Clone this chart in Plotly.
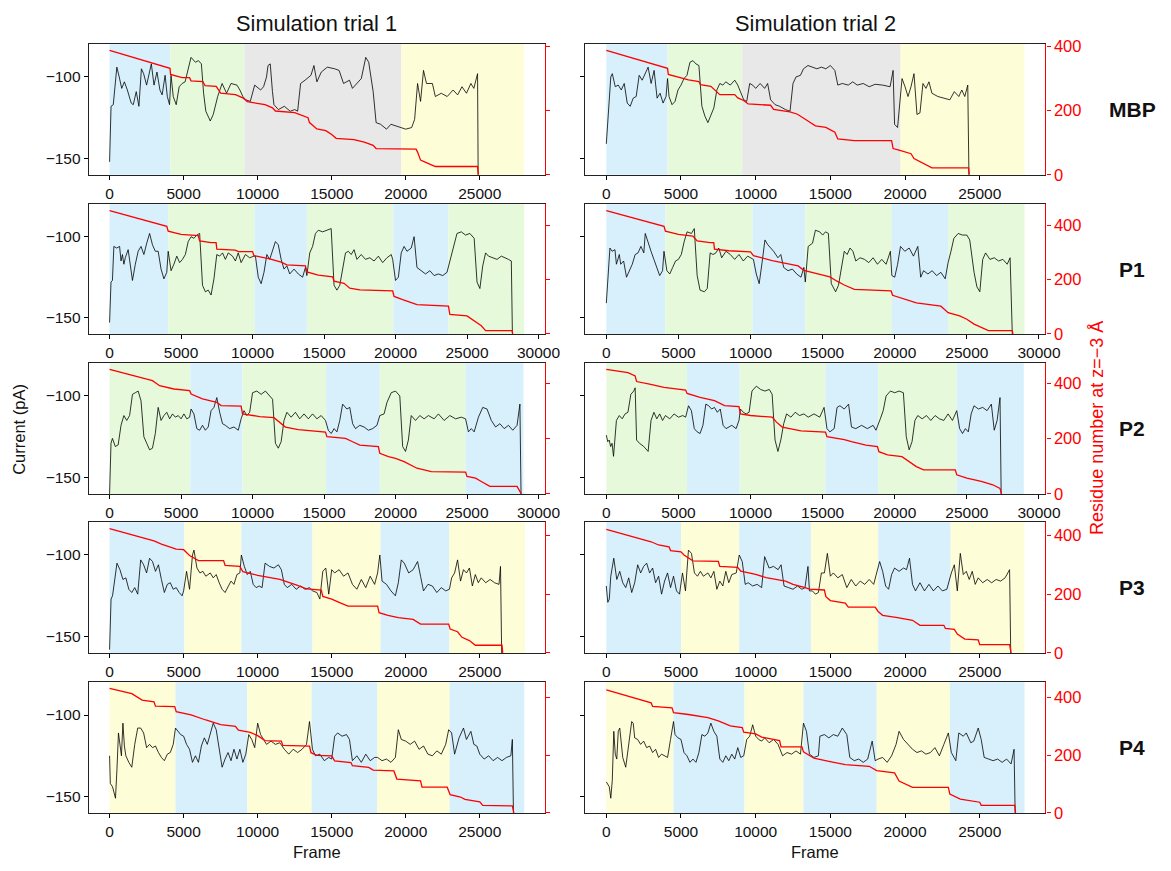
import plotly.graph_objects as go

# ---------------- DATA ----------------
# Panel A: MBP, trial 1
mbp1_frame = [0,100,250,400,490,650,820,1000,1200,1460,1600,1800,1980,2150,2300,2500,2820,3000,3200,3400,3550,3750,3900,4050,
              4150,4300,4500,4700,4900,5100,5300,5500,5800,6000,6200,6350,6500,6800,7000,7300,7600,7900,8200,8600,8800,9000,
              9200,9500,9800,10200,10400,10600,10700,10850,11000,11100,11400,11800,12200,12500,12700,12900,13200,13600,13800,14000,14300,14700,15200,15500,15800,16200,16400,16700,17000,17300,17500,17800,18000,18300,18700,19000,19300,19700,
              20000,20400,20600,20800,21000,21200,21400,21800,22000,22400,22800,23200,23500,23800,24100,24400,24600,24850,24900]
mbp1_current = [-152,-118,-117,-103,-94,-100,-107,-103,-108,-116,-117,-109,-118,-95,-98,-105,-92,-105,-97,-108,-111,-99,-112,-117,
                -99,-112,-117,-106,-104,-103,-95,-88,-91,-90,-92,-110,-121,-127,-123,-112,-104,-110,-104,-105,-108,-112,
                -114,-115,-105,-108,-106,-100,-93,-92,-109,-117,-120,-118,-121,-120,-121,-104,-102,-99,-93,-103,-97,-94,-95,-96,-104,-102,-107,-104,-101,-88,-91,-109,-128,-129,-132,-129,-130,-131,
                -132,-131,-126,-104,-115,-96,-104,-104,-112,-110,-112,-108,-111,-106,-110,-104,-107,-98,-175]
mbp1_res_frame = [0,4080,4120,4900,5400,5500,6300,6450,7200,7500,8500,9000,9300,10500,11000,11200,12500,13000,13400,13500,14000,14600,15000,15300,16500,17200,17800,18000,20700,20800,21000,21500,22000,24850,24900]
mbp1_residue = [388,332,313,303,303,293,291,278,276,255,250,240,228,219,209,199,194,184,178,163,143,138,126,114,110,102,92,82,80,71,46,36,26,26,0]
mbp1_spans = [0,4100,9100,19700,28000]
mbp1_span_colors = ["blue","green","gray","yellow"]

# Panel B: MBP, trial 2
mbp2_frame = [0,150,300,400,600,800,1000,1200,1400,1600,1800,2000,2200,2400,2600,2800,3000,3200,3400,3600,3800,4000,4100,
              4200,4400,4600,4800,5000,5200,5400,5600,5800,6000,6200,6400,6600,6800,7000,7200,7400,7600,7800,8000,8300,8600,8800,9000,9200,
              9400,9600,9800,10000,10300,10600,10800,11000,11300,11600,12000,12300,12500,12700,13000,13200,13500,13800,14100,14400,14700,15000,15300,15500,15800,16200,16500,16800,17200,17600,18000,18500,19000,19200,19300,19500,19700,
              19800,20000,20200,20400,20600,20800,21000,21200,21400,21600,21800,22200,22600,23000,23300,23600,23800,24000,24200,24300]
mbp2_current = [-141,-117,-100,-98,-106,-105,-108,-104,-116,-118,-113,-112,-99,-102,-98,-94,-104,-96,-113,-110,-116,-112,-101,
                -112,-117,-115,-108,-105,-101,-99,-91,-90,-92,-93,-118,-124,-128,-123,-119,-108,-104,-105,-103,-105,-102,-105,-109,-114,
                -115,-104,-105,-107,-104,-107,-104,-114,-117,-118,-120,-121,-104,-100,-99,-95,-93,-94,-95,-94,-95,-93,-96,-105,-104,-105,-103,-105,-104,-106,-104.5,-105,-106,-96,-129,-131,-109,
                -101,-106,-112,-106,-98,-123,-122,-104,-107,-103,-110,-112,-113,-114,-109,-112,-108,-112,-105,-175]
mbp2_res_frame = [0,4100,4150,5000,5500,6200,6300,7000,7400,7600,8600,8800,9200,9500,11000,11200,12300,12800,13500,14000,14700,15300,15500,16600,19100,19200,19600,20400,20600,21200,21800,24250,24300]
mbp2_residue = [388,332,313,303,296,291,281,276,260,250,250,240,232,221,217,204,196,189,168,153,148,133,112,107,107,82,77,66,51,36,22,22,0]
mbp2_spans = [0,4100,9100,19700,28000]
mbp2_span_colors = ["blue","green","gray","yellow"]

# Panel C: P1, trial 1
p1a_frame = [0,100,200,300,500,700,800,900,1000,1100,1300,1500,1600,1800,2000,2200,2400,2600,2800,3000,3200,3400,3600,3800,4000,4100,
             4300,4500,4700,4900,5100,5300,5500,5700,5900,6100,6300,6500,6700,6900,7100,7300,7500,7700,7900,8100,8300,8600,8800,9000,9200,9500,9800,10100,
             10200,10400,10600,10800,11000,11200,11400,11600,11800,12000,12200,12400,12600,12900,13200,13500,13700,
             13800,14000,14200,14400,14600,14900,15200,15500,15700,15900,16100,16300,16500,16700,16900,17100,17300,17600,17900,18200,18500,18800,19100,19400,19700,
             19800,20000,20200,20400,20600,20800,21100,21300,21500,21800,22100,22400,22700,23000,23300,23600,
             23800,24000,24300,24600,24900,25200,25500,25700,25900,26100,26300,26500,26800,27100,27400,27700,27900,28100,28200]
p1a_current = [-153,-128,-127,-106,-107,-106,-115,-111,-117,-113,-108,-121,-127,-117,-109,-106,-111,-104,-98,-105,-109,-109,-120,-126,-122,-109,
               -121,-117,-112,-116,-114,-111,-103,-100,-101,-99,-98,-130,-134,-133,-136,-126,-111,-112,-110,-114,-110,-112,-115,-110,-116,-111,-113,-112,
               -112,-125,-129,-122,-111,-114,-108,-103,-105,-114,-120,-118,-123,-120,-123,-125,-119,
               -124,-110,-106,-98,-96,-97,-96,-95,-130,-133,-130,-120,-110,-109,-111,-108,-114,-111,-114,-113,-115,-112,-116,-113,-111,
               -114,-127,-125,-110,-106,-109,-107,-100,-119,-121,-123,-121,-124,-123,-124,-122,
               -115,-108,-98,-97,-99,-98,-101,-128,-132,-118,-110,-112,-113,-114,-112,-113,-114,-115,-175]
p1a_res_frame = [0,4000,4100,5000,6200,6300,7100,7450,7500,8800,9000,10000,10100,11200,12000,12400,13700,13800,14600,15600,15700,16400,16800,17500,19800,19900,20500,21500,23700,23800,25000,25500,26000,26300,28150,28200]
p1a_residue = [454,396,378,366,362,342,336,336,312,308,303,303,288,276,264,254,250,228,216,210,194,186,168,162,158,138,126,108,102,72,66,48,30,12,12,0]
p1a_spans = [0,4100,10150,13800,19850,23700,29000]
p1a_span_colors = ["blue","green","blue","green","blue","green"]

# Panel D: P1, trial 2
p1b_frame = [0,100,250,400,600,700,900,1000,1200,1400,1600,1800,2000,2200,2400,2600,2700,2900,3100,3300,3500,3700,3900,4000,
             4200,4400,4600,4800,5000,5200,5400,5600,5900,6100,6300,6500,6800,7000,7200,7400,7600,7800,8000,8300,8600,8900,9200,9500,9800,10000,
             10200,10400,10600,10800,11000,11200,11400,11600,11900,12100,12300,12600,12900,13200,13500,13700,
             13800,14000,14300,14500,14800,15000,15200,15400,15600,15900,16100,16300,16500,16700,16900,17100,17300,17600,17900,18200,18500,18800,19100,19400,19700,
             19800,20000,20200,20400,20700,21000,21300,21600,21800,22000,22300,22600,22900,23200,23500,23700,
             23900,24100,24400,24700,25000,25200,25500,25700,25900,26100,26300,26600,26900,27200,27500,27800,28000,28200]
p1b_current = [-141,-128,-107,-109,-108,-117,-111,-117,-115,-125,-121,-117,-111,-110,-106,-110,-98,-104,-109,-114,-119,-124,-121,-109,
               -121,-123,-119,-115,-114,-111,-103,-97,-98,-95,-124,-133,-134,-132,-110,-111,-110,-107,-113,-109,-111,-114,-111,-115,-112,-113,
               -114,-123,-129,-116,-102,-105,-107,-109,-113,-111,-119,-121,-120,-123,-125,-119,
               -128,-106,-104,-96,-97,-99,-97,-98,-129,-134,-130,-120,-109,-111,-107,-109,-115,-113,-114,-116,-113,-117,-114,-117,-109,
               -124,-125,-117,-106,-109,-107,-112,-106,-125,-121,-123,-121,-124,-122,-126,-116,
               -109,-101,-98,-99,-99,-102,-122,-131,-134,-114,-110,-114,-113,-115,-114,-117,-113,-175]
p1b_res_frame = [0,4000,4100,5000,6000,6300,7200,7450,7500,8500,10000,10200,11500,12500,13300,13700,14700,15500,16000,16500,17200,19750,19850,20500,21500,23200,23700,24500,25000,25500,26000,26500,28150,28200]
p1b_residue = [454,396,378,366,360,342,336,336,312,306,302,288,270,258,250,234,222,210,194,180,164,158,142,130,114,102,78,66,54,36,24,12,12,0]
p1b_spans = [0,4100,10150,13800,19800,23700,29000]
p1b_span_colors = ["blue","green","blue","green","blue","green"]

# Panel E: P2, trial 1
p2a_frame = [0,100,200,400,600,800,1000,1200,1400,1600,1800,2000,2200,2400,2600,2800,3000,3200,3400,3600,3800,4000,4200,4400,4600,4800,5000,5200,5400,5600,
             5700,5900,6100,6300,6500,6700,6900,7100,7300,7500,7700,7900,8100,8400,8700,9000,9200,
             9400,9600,9800,10000,10300,10600,10900,11200,11400,11600,11800,12000,12200,12400,12700,13000,13300,13600,13900,14200,14500,14800,15100,
             15300,15500,15700,15900,16100,16300,16600,16800,17000,17200,17500,17800,18100,18400,18700,
             18900,19200,19400,19700,20000,20300,20500,20700,20900,21100,21400,21700,22000,22300,22700,23000,23400,23800,24200,24600,24900,
             25100,25300,25500,25800,26100,26400,26700,27000,27300,27600,27900,28200,28500,28700,28800]
p2a_current = [-160,-129,-126,-131,-130,-118,-112,-115,-112,-99,-98,-97,-103,-125,-129,-133,-132,-123,-107,-115,-112,-110,-114,-111,-113,-112,-114,-111,-114,-113,
               -108,-111,-120,-121,-118,-121,-119,-109,-107,-101,-110,-117,-118,-120,-119,-121,-114,
               -109,-112,-110,-98,-97,-99,-97,-100,-102,-129,-132,-128,-115,-110,-113,-110,-114,-111,-114,-111,-114,-112,-115,
               -121,-123,-120,-122,-115,-105,-108,-107,-117,-120,-118,-119,-121,-120,-118,
               -112,-111,-104,-98,-97,-100,-131,-134,-127,-112,-115,-112,-114,-112,-114,-111,-115,-112,-114,-113,-114,
               -122,-120,-122,-113,-107,-108,-115,-119,-117,-120,-118,-121,-118,-105,-175]
p2a_res_frame = [0,3000,3500,4500,5600,5700,6500,7500,7800,9200,9300,10000,10500,11500,11900,12300,13200,15100,15200,16500,17000,17500,18800,18900,19500,20000,20600,21000,21500,22500,24900,25000,25600,26000,26600,28500,28750,28800]
p2a_residue = [451,410,392,380,374,362,344,332,320,318,290,284,280,276,260,242,233,224,207,201,189,177,171,147,135,129,117,105,93,81,79,63,57,45,27,27,4,0]
p2a_spans = [0,5650,9300,15150,18900,24900,28950]
p2a_span_colors = ["green","blue","green","blue","green","blue"]

# Panel F: P2, trial 2
p2b_frame = [0,100,200,300,400,500,700,900,1100,1300,1500,1700,1900,2000,2100,2300,2600,2900,3100,3300,3500,3700,3900,4100,4400,4700,5000,5300,5500,
             5700,5900,6100,6300,6500,6700,6900,7100,7300,7500,7700,7900,8100,8300,8500,8700,9000,9200,
             9300,9500,9700,9900,10100,10400,10700,11000,11300,11500,11700,11900,12100,12300,12500,12800,13100,13400,13700,14000,14400,14800,15100,
             15300,15500,15800,16000,16200,16500,16800,17000,17300,17700,18100,18500,18700,
             19000,19200,19400,19700,20000,20300,20600,20800,21000,21200,21400,21600,21900,22200,22500,22800,23100,23400,23700,24000,24300,
             24500,24700,24900,25100,25300,25500,25800,26100,26400,26700,26900,27100,27300,27400]
p2b_current = [-124,-128,-127,-131,-129,-137,-115,-112,-114,-111,-110,-99,-97,-95,-127,-129,-131,-134,-115,-110,-114,-111,-115,-112,-114,-111,-113,-112,-113,
               -106,-109,-120,-122,-123,-118,-105,-106,-108,-107,-110,-108,-118,-120,-119,-118,-120,-115,
               -108,-110,-111,-110,-97,-94,-96,-97,-96,-99,-127,-134,-127,-117,-111,-113,-110,-112,-111,-113,-111,-113,-107,
               -120,-122,-120,-107,-106,-108,-105,-119,-120,-118,-120,-118,-121,
               -114,-109,-100,-97,-98,-97,-98,-125,-133,-128,-115,-112,-114,-112,-115,-112,-114,-115,-111,-115,-109,
               -120,-123,-120,-122,-111,-106,-108,-107,-109,-105,-121,-115,-101,-175]
p2b_res_frame = [0,1500,2000,2100,3000,4000,5500,5600,6500,7500,8200,9200,9300,10000,11500,11800,12200,13500,15200,15300,16500,17000,18000,18800,18900,19500,20500,21000,21500,22000,24200,24300,25000,26000,26800,27300,27400]
p2b_residue = [451,439,427,407,398,386,376,364,350,338,320,316,290,284,278,260,242,228,224,207,197,189,177,171,153,141,135,117,99,87,87,69,57,45,33,20,0]
p2b_spans = [0,5600,9250,15200,18850,24300,28950]
p2b_span_colors = ["green","blue","green","blue","green","blue"]

# Panel G: P3, trial 1
p3a_frame = [0,100,200,400,500,700,900,1100,1300,1500,1700,1900,2100,2300,2500,2700,2900,3100,3300,3500,3700,3900,4100,4300,4500,4700,4900,5000,
             5200,5400,5600,5700,5900,6100,6300,6500,6800,7000,7200,7400,7600,7800,8000,8200,8400,8600,8800,
             8900,9100,9300,9500,9700,9900,10100,10300,10500,10800,11100,11400,11600,11800,12000,12300,12600,12900,13200,13500,
             13700,14000,14200,14400,14600,14800,15000,15200,15500,15800,16100,16400,16700,17000,17300,17600,17900,18100,18250,
             18400,18700,19000,19300,19500,19700,19900,20200,20500,20800,21000,21200,21500,21800,22100,22400,22700,22950,
             23100,23300,23500,23700,23900,24100,24300,24500,24700,24900,25100,25400,25700,26000,26300,26400,26500]
p3a_current = [-158,-127,-125,-111,-105,-109,-115,-114,-121,-123,-120,-124,-103,-106,-111,-102,-104,-110,-106,-115,-123,-118,-117,-121,-120,-123,-125,-122,
               -110,-121,-100,-97,-108,-111,-110,-113,-111,-114,-112,-117,-121,-123,-119,-116,-118,-112,-111,
               -100,-107,-112,-110,-118,-120,-119,-120,-105,-107,-108,-106,-109,-118,-120,-118,-121,-119,-121,-120,
               -122,-123,-127,-110,-108,-124,-109,-111,-109,-113,-111,-118,-121,-115,-120,-113,-118,-111,-100,
               -116,-118,-122,-125,-117,-103,-105,-111,-109,-104,-113,-122,-118,-119,-123,-120,-122,-121,
               -114,-111,-103,-116,-109,-111,-108,-119,-112,-117,-114,-117,-115,-117,-118,-107,-175]
p3a_res_frame = [0,3000,3500,4500,5000,5400,6000,7700,7800,8800,9000,10000,11500,12000,12600,13300,14300,14400,15000,15500,16100,18100,18200,18800,19500,20500,21000,22900,23000,23500,23800,24300,24700,26500,26550]
p3a_residue = [423,381,370,353,351,331,314,314,298,294,276,264,250,242,231,218,214,192,183,172,159,159,137,128,120,114,98,98,81,72,53,42,26,26,0]
p3a_spans = [0,5050,8900,13700,18300,22950,28050]
p3a_span_colors = ["blue","yellow","blue","yellow","blue","yellow"]

# Panel H: P3, trial 2
p3b_frame = [0,100,200,300,500,700,900,1100,1300,1500,1700,1900,2100,2300,2500,2700,2900,3100,3300,3500,3700,3900,4100,4300,4500,4700,4900,
             5100,5300,5500,5700,5900,6100,6300,6500,6800,7000,7200,7400,7600,7800,8000,8200,8400,8700,
             8900,9100,9300,9500,9800,10100,10400,10600,10900,11200,11500,11700,11900,12200,12500,12800,13100,13300,13500,13600,
             13800,14000,14200,14400,14600,14800,15000,15200,15500,15800,16100,16400,16700,17000,17300,17600,17900,18100,
             18300,18500,18700,18900,19100,19300,19600,19900,20100,20300,20500,20700,21000,21300,21600,21900,22200,22500,22800,
             23100,23300,23500,23700,23900,24100,24300,24500,24700,24900,25200,25500,25800,26100,26400,26700,27000,27100]
p3b_current = [-119,-129,-127,-113,-102,-115,-110,-117,-120,-114,-123,-117,-106,-111,-107,-105,-111,-108,-117,-113,-124,-116,-111,-120,-113,-122,-124,
               -111,-122,-97,-99,-111,-113,-110,-113,-111,-114,-110,-121,-116,-119,-110,-117,-112,-111,
               -100,-104,-118,-117,-119,-118,-120,-101,-108,-107,-109,-106,-119,-120,-121,-119,-121,-120,-107,-122,
               -122,-124,-123,-111,-111,-99,-113,-111,-114,-112,-120,-115,-119,-116,-118,-115,-118,-111,
               -104,-110,-119,-121,-112,-108,-110,-108,-109,-102,-118,-122,-117,-122,-118,-122,-119,-122,-121,
               -111,-106,-122,-99,-112,-110,-115,-110,-118,-114,-117,-115,-117,-115,-116,-114,-109,-175]
p3b_res_frame = [0,3000,3500,4200,4300,5000,5200,5800,7500,7600,8800,9000,10000,10700,12000,12500,13200,13600,14600,14700,15000,16000,16200,18000,18200,18500,19500,20500,21000,22600,22700,23300,23500,24000,24900,25000,27000,27100]
p3b_residue = [420,378,367,361,348,344,333,313,311,294,291,278,267,256,244,233,224,217,214,191,178,169,156,156,141,128,120,111,94,94,83,80,64,47,44,28,28,0]
p3b_spans = [0,5000,8900,13700,18200,23050,28000]
p3b_span_colors = ["blue","yellow","blue","yellow","blue","yellow"]

# Panel I: P4, trial 1
p4a_frame = [0,50,200,300,400,500,600,800,900,1000,1100,1300,1500,1700,1900,2100,2300,2500,2700,2900,3100,3300,3500,3700,3900,4100,4300,4450,
             4600,4800,5000,5200,5400,5600,5800,6000,6200,6400,6600,6800,7000,7200,7400,7600,7800,8000,8200,8400,8600,8800,9000,9200,
             9400,9600,9800,10000,10200,10400,10600,10900,11200,11500,11800,12100,12400,12700,13000,13300,13500,
             13700,13900,14200,14500,14800,15000,15200,15400,15700,16000,16200,16400,16700,17000,17300,17600,17900,
             18100,18400,18700,19000,19300,19500,19700,20000,20300,20600,20900,21200,21500,21800,22100,22400,22700,22900,
             23100,23300,23600,23900,24100,24400,24600,24800,25000,25300,25600,25900,26200,26500,26800,27100,27200,27300]
p4a_current = [-125,-142,-144,-148,-151,-133,-111,-125,-105,-119,-125,-129,-132,-118,-108,-108,-111,-120,-118,-120,-119,-123,-126,-128,-124,-123,-118,-108,
               -110,-112,-113,-118,-121,-129,-125,-129,-119,-114,-118,-112,-105,-109,-121,-132,-127,-123,-128,-121,-127,-121,-129,-124,
               -112,-115,-120,-105,-112,-115,-118,-116,-118,-117,-121,-124,-121,-123,-121,-118,-104,
               -121,-125,-124,-128,-126,-127,-113,-111,-113,-112,-115,-128,-125,-129,-124,-128,-126,
               -126,-128,-127,-129,-126,-109,-115,-116,-118,-116,-121,-119,-124,-125,-122,-124,-118,-109,
               -111,-124,-114,-108,-115,-110,-118,-119,-124,-127,-125,-128,-126,-128,-126,-125,-115,-175]
p4a_res_frame = [0,1500,2200,3000,3100,4400,4500,5500,6500,7500,8500,8700,9500,10000,10500,11600,11700,13500,13600,14000,15000,15200,16300,16400,17500,17800,19200,19400,21000,21100,22800,23000,23700,24000,25000,25200,27200,27300]
p4a_residue = [430,412,390,384,369,367,350,339,321,305,299,286,278,267,250,248,233,231,208,199,197,180,174,163,157,148,145,117,111,89,89,63,55,47,38,26,24,0]
p4a_spans = [0,4450,9300,13650,18080,22970,28000]
p4a_span_colors = ["yellow","blue","yellow","blue","yellow","blue"]

# Panel J: P4, trial 2
p4b_frame = [0,100,200,300,400,500,600,700,800,900,1000,1100,1300,1500,1700,1800,1900,2100,2300,2500,2700,2900,3100,3300,3500,3700,3900,4100,4300,4500,
             4600,4800,5000,5200,5400,5600,5800,6000,6200,6400,6600,6800,7000,7200,7400,7600,7800,8000,8200,8400,8600,8800,9000,9200,
             9400,9600,9800,10000,10200,10400,10600,10900,11200,11500,11800,12100,12400,12700,13000,13200,
             13400,13600,13900,14200,14300,14600,14900,15200,15500,15800,16100,16300,16600,16900,17200,17500,17800,18000,
             18200,18500,18800,19100,19400,19600,19900,20200,20500,20800,21100,21400,21700,22000,22300,22600,22900,
             23100,23400,23600,23900,24100,24400,24600,24900,25100,25300,25600,25900,26200,26500,26800,27100,27300,27400]
p4b_current = [-141,-143,-144,-151,-140,-110,-124,-127,-110,-108,-119,-126,-132,-117,-104,-105,-114,-115,-118,-116,-120,-119,-123,-121,-126,-124,-125,-126,-115,-104,
               -112,-114,-115,-123,-125,-129,-127,-129,-123,-112,-113,-111,-105,-110,-113,-127,-129,-125,-128,-124,-127,-120,-126,-125,
               -115,-113,-106,-113,-115,-116,-114,-117,-115,-118,-125,-123,-124,-122,-124,-105,
               -110,-124,-126,-125,-113,-112,-114,-112,-113,-108,-112,-126,-128,-127,-129,-127,-116,-128,
               -127,-126,-129,-125,-118,-110,-115,-118,-121,-123,-122,-124,-123,-120,-125,-118,-111,
               -123,-128,-111,-113,-111,-117,-116,-108,-115,-126,-127,-128,-127,-129,-127,-130,-121,-175]
p4b_res_frame = [0,2000,3000,3100,4400,4500,5500,6800,7500,8300,9100,9200,10000,10400,11600,11700,13100,13200,13900,14900,16000,17600,18100,19300,19600,20500,22900,23000,23700,25000,25100,27350,27400]
p4b_residue = [425,395,380,368,363,346,340,329,318,301,295,279,273,262,250,228,228,211,189,178,167,161,146,138,110,88,88,65,48,37,26,26,0]
p4b_spans = [0,4500,9250,13200,18100,23000,28000]
p4b_span_colors = ["yellow","blue","yellow","blue","yellow","blue"]

row_names = ["MBP", "P1", "P2", "P3", "P4"]
col_titles = ["Simulation trial 1", "Simulation trial 2"]
row_frame_ticks = [[0,5000,10000,15000,20000,25000],
                   [0,5000,10000,15000,20000,25000,30000],
                   [0,5000,10000,15000,20000,25000,30000],
                   [0,5000,10000,15000,20000,25000],
                   [0,5000,10000,15000,20000,25000]]
row_frame_range = [[-1400,29400],[-1450,30450],[-1450,30450],[-1400,29400],[-1400,29400]]
row_residue_range = [[0,407],[0,477],[0,473],[0,444],[0,451]]
current_ticks = [-100,-150]
current_range = [-160,-80]
residue_ticks = [0,200,400]

# ---------------- STYLE ----------------
span_fill = {"blue": "#d7f0fc", "green": "#e6fadb", "gray": "#e8e8e8", "yellow": "#fdfdd8"}
FONT = "Liberation Sans, Arial, sans-serif"
W, H = 1171, 871
col_px = [(90, 552), (593, 1059)]
row_px = [(38, 171), (201, 333), (363, 496), (525, 658), (688, 821)]

panels = [
    (mbp1_frame, mbp1_current, mbp1_res_frame, mbp1_residue, mbp1_spans, mbp1_span_colors),
    (mbp2_frame, mbp2_current, mbp2_res_frame, mbp2_residue, mbp2_spans, mbp2_span_colors),
    (p1a_frame, p1a_current, p1a_res_frame, p1a_residue, p1a_spans, p1a_span_colors),
    (p1b_frame, p1b_current, p1b_res_frame, p1b_residue, p1b_spans, p1b_span_colors),
    (p2a_frame, p2a_current, p2a_res_frame, p2a_residue, p2a_spans, p2a_span_colors),
    (p2b_frame, p2b_current, p2b_res_frame, p2b_residue, p2b_spans, p2b_span_colors),
    (p3a_frame, p3a_current, p3a_res_frame, p3a_residue, p3a_spans, p3a_span_colors),
    (p3b_frame, p3b_current, p3b_res_frame, p3b_residue, p3b_spans, p3b_span_colors),
    (p4a_frame, p4a_current, p4a_res_frame, p4a_residue, p4a_spans, p4a_span_colors),
    (p4b_frame, p4b_current, p4b_res_frame, p4b_residue, p4b_spans, p4b_span_colors),
]

fig = go.Figure()
layout = {}
shapes = []
annotations = []

def px2x(px):
    return px / W

def px2y(py):
    return 1 - py / H

TICKFONT = 15.5
for k, (fr, cur, rfr, res, spans, scol) in enumerate(panels):
    r, c = divmod(k, 2)
    xid = k + 1
    yl = 2 * k + 1
    yr = 2 * k + 2
    xref = "x" if xid == 1 else f"x{xid}"
    ylref = "y" if yl == 1 else f"y{yl}"
    yrref = f"y{yr}"
    xname = "xaxis" if xid == 1 else f"xaxis{xid}"
    ylname = "yaxis" if yl == 1 else f"yaxis{yl}"
    yrname = f"yaxis{yr}"
    xd = [px2x(col_px[c][0]), px2x(col_px[c][1])]
    yd = [px2y(row_px[r][1]), px2y(row_px[r][0])]

    layout[xname] = dict(domain=xd, anchor=ylref, range=row_frame_range[r],
                         tickvals=row_frame_ticks[r], ticktext=[str(v) for v in row_frame_ticks[r]],
                         ticks="outside", ticklen=4, tickwidth=1, tickcolor="black",
                         showline=True, linecolor="#222", linewidth=1.3, mirror=True,
                         showgrid=False, zeroline=False,
                         tickfont=dict(family=FONT, size=TICKFONT, color="#111"))
    layout[ylname] = dict(domain=yd, anchor=xref, range=current_range,
                          tickvals=current_ticks, ticktext=["\u2212100", "\u2212150"],
                          showticklabels=(c == 0),
                          ticks="outside", ticklen=4, tickwidth=1, tickcolor="black",
                          showline=True, linecolor="#222", linewidth=1.3,
                          showgrid=False, zeroline=False,
                          tickfont=dict(family=FONT, size=TICKFONT, color="#111"))
    layout[yrname] = dict(overlaying=ylref, anchor=xref, side="right",
                          range=row_residue_range[r], tickvals=residue_ticks,
                          showticklabels=(c == 1),
                          ticks="outside", ticklen=4, tickwidth=1, tickcolor="red",
                          showline=True, linecolor="red", linewidth=1.3,
                          showgrid=False, zeroline=False,
                          tickfont=dict(family=FONT, size=TICKFONT + 1, color="red"))

    for i in range(len(spans) - 1):
        shapes.append(dict(type="rect", xref=xref, yref=f"{ylref} domain",
                           x0=spans[i], x1=spans[i + 1], y0=0, y1=1,
                           fillcolor=span_fill[scol[i]], line=dict(width=0), layer="below"))

    fig.add_trace(go.Scatter(x=fr, y=cur, xaxis=xref, yaxis=ylref, mode="lines",
                             line=dict(color="black", width=0.8), showlegend=False, hoverinfo="skip"))
    fig.add_trace(go.Scatter(x=rfr, y=res, xaxis=xref, yaxis=yrref, mode="lines",
                             line=dict(color="red", width=1.3), showlegend=False, hoverinfo="skip"))

# column titles and x titles
for c in range(2):
    annotations.append(dict(text=col_titles[c], xref="paper", yref="paper",
                            x=px2x((col_px[c][0] + col_px[c][1]) / 2), y=px2y(17),
                            showarrow=False, xanchor="center", yanchor="middle",
                            font=dict(family=FONT, size=21.8, color="#111")))
    annotations.append(dict(text="Frame", xref="paper", yref="paper",
                            x=px2x((col_px[c][0] + col_px[c][1]) / 2), y=px2y(861),
                            showarrow=False, xanchor="center", yanchor="middle",
                            font=dict(family=FONT, size=16.5, color="#111")))
# row labels
for r in range(5):
    annotations.append(dict(text=f"<b>{row_names[r]}</b>", xref="paper", yref="paper",
                            x=px2x(1147), y=px2y((row_px[r][0] + row_px[r][1]) / 2),
                            showarrow=False, xanchor="center", yanchor="middle",
                            font=dict(family=FONT, size=21, color="#111")))
annotations.append(dict(text="Current (pA)", xref="paper", yref="paper",
                        x=px2x(19), y=px2y(430), textangle=-90,
                        showarrow=False, xanchor="center", yanchor="middle",
                        font=dict(family=FONT, size=16.5, color="#111")))
annotations.append(dict(text="Residue number at z=\u22123 \u00c5", xref="paper", yref="paper",
                        x=px2x(1111), y=px2y(429), textangle=-90,
                        showarrow=False, xanchor="center", yanchor="middle",
                        font=dict(family=FONT, size=18, color="red")))

fig.update_layout(width=W, height=H, margin=dict(l=0, r=0, t=0, b=0),
                  paper_bgcolor="white", plot_bgcolor="white",
                  shapes=shapes, annotations=annotations, showlegend=False, **layout)

fig.write_html("out.html")
